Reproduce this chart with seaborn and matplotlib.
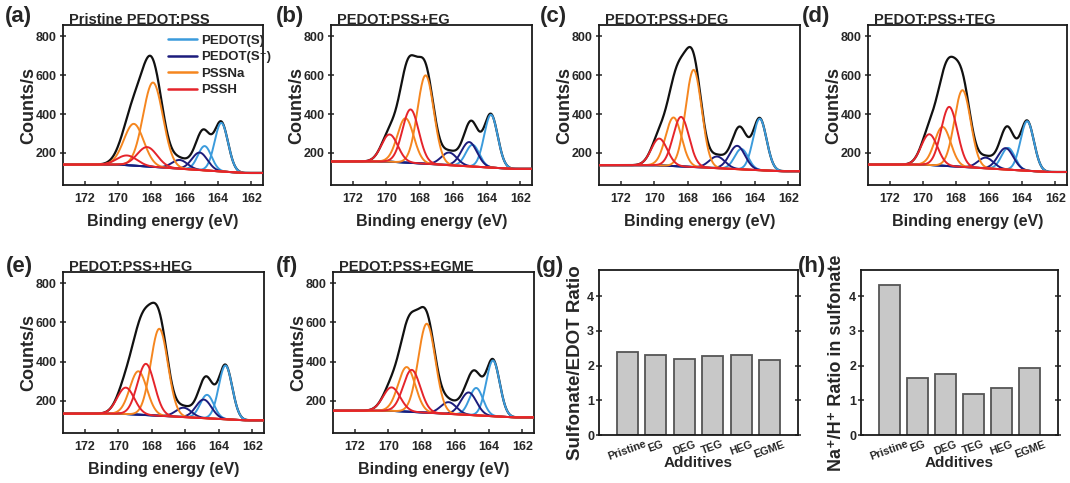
import numpy as np
import pandas as pd
import matplotlib
matplotlib.use("Agg")
import matplotlib.pyplot as plt
from matplotlib.lines import Line2D
import seaborn as sns

# ---------------- data ----------------
panel_titles = ["Pristine PEDOT:PSS", "PEDOT:PSS+EG", "PEDOT:PSS+DEG",
                "PEDOT:PSS+TEG", "PEDOT:PSS+HEG", "PEDOT:PSS+EGME"]
panel_letters = ["(a)", "(b)", "(c)", "(d)", "(e)", "(f)", "(g)", "(h)"]

# peak centres (eV) of each doublet (2p3/2, 2p1/2) per panel
pedot_s_pos = [(163.80, 164.80), (163.75, 164.85), (163.70, 164.80),
               (163.70, 164.85), (163.60, 164.70), (163.75, 164.75)]
pedot_sp_pos = [(165.10, 166.30), (165.05, 166.25), (165.05, 166.25),
                (165.00, 166.20), (164.90, 166.10), (165.20, 166.40)]
pssna_pos = [(167.90, 169.05), (167.65, 168.85), (167.65, 168.85),
             (167.60, 168.80), (167.55, 168.80), (167.70, 168.90)]
pssh_pos = [(168.25, 169.45), (168.55, 169.80), (168.40, 169.70),
            (168.40, 169.60), (168.35, 169.55), (168.60, 169.80)]

# peak heights above background (counts/s)
pedot_s_amp = [(250, 125), (272, 112), (265, 105), (255, 112), (275, 120), (285, 140)]
pedot_sp_amp = [(90, 45), (125, 65), (120, 60), (110, 55), (95, 48), (115, 60)]
pssna_amp = [(434, 215), (455, 228), (500, 250), (395, 200), (445, 222), (455, 228)]
pssh_amp = [(100, 50), (275, 140), (255, 138), (305, 158), (262, 135), (215, 120)]

# peak widths (FWHM, eV)
pedot_s_fwhm = [0.95, 0.95, 0.95, 0.95, 0.95, 0.95]
pedot_sp_fwhm = [1.1, 1.1, 1.1, 1.1, 1.1, 1.1]
pss_fwhm = [1.4, 1.15, 1.12, 1.15, 1.2, 1.2]

# background level at high / low binding energy side
bg_high = [140, 156, 137, 140, 134, 149]
bg_low = [97, 118, 106, 102, 100, 115]

component_names = ["PEDOT(S)", "PEDOT(S\u207a)", "PSSNa", "PSSH"]
component_colors = ["#3b9bdc", "#1c1c7c", "#f5861f", "#e5242b"]

additives = ["Pristine", "EG", "DEG", "TEG", "HEG", "EGME"]
sulfonate_edot_ratio = [2.40, 2.29, 2.18, 2.27, 2.31, 2.16]
na_h_ratio = [4.31, 1.63, 1.75, 1.17, 1.36, 1.93]

# ---------------- style ----------------
sns.set_theme(style="ticks")
FAMILY = ["Liberation Sans", "DejaVu Sans"]
plt.rcParams["font.family"] = FAMILY
plt.rcParams["font.weight"] = "bold"
plt.rcParams["axes.labelweight"] = "bold"
plt.rcParams["axes.linewidth"] = 1.3
plt.rcParams["axes.edgecolor"] = "#1a1a1a"

W, H = 1070, 483
fig = plt.figure(figsize=(W / 100, H / 100), dpi=100)


def add_ax(left, top, right, bottom):
    return fig.add_axes([left / W, 1 - bottom / H, (right - left) / W, (bottom - top) / H])


def gauss(x, c, a, w):
    return a * np.exp(-4 * np.log(2) * (x - c) ** 2 / w ** 2)


xps_boxes = [(63, 25, 263, 185), (331, 25, 532, 185), (599, 25, 800, 185),
             (868, 25, 1067, 185), (63, 272, 264, 433), (333, 272, 534, 433)]
label_pos = [(5, 6), (276, 6), (540, 6), (802, 6), (6, 256), (276, 256), (536, 256), (798, 256)]

xgrid = np.linspace(173.3, 161.3, 700)

for i in range(6):
    ax = add_ax(*xps_boxes[i])
    bg = bg_low[i] + (bg_high[i] - bg_low[i]) * np.clip((xgrid - 162.5) / (170 - 162.5), 0, 1)
    comps = [
        (pedot_s_pos[i], pedot_s_amp[i], pedot_s_fwhm[i]),
        (pedot_sp_pos[i], pedot_sp_amp[i], pedot_sp_fwhm[i]),
        (pssna_pos[i], pssna_amp[i], pss_fwhm[i]),
        (pssh_pos[i], pssh_amp[i], pss_fwhm[i]),
    ]
    peaks = []
    for ci, (pos, amp, w) in enumerate(comps):
        for c, a in zip(pos, amp):
            peaks.append((ci, gauss(xgrid, c, a, w)))
    envelope = bg + sum(p for _, p in peaks)
    sns.lineplot(x=xgrid, y=envelope, ax=ax, color="#111111", lw=1.6, sort=False, zorder=2)
    for ci, p in peaks:
        sns.lineplot(x=xgrid, y=bg + p, ax=ax, color=component_colors[ci], lw=1.4,
                     sort=False, zorder=3 + ci)
    ax.set_xlim(173.3, 161.3)
    ax.set_ylim(35, 858)
    ax.set_xticks([172, 170, 168, 166, 164, 162])
    ax.set_yticks([200, 400, 600, 800])
    ax.tick_params(axis="x", direction="in", length=3, width=1.1, labelsize=9, pad=6)
    ax.tick_params(axis="y", direction="inout", length=5, width=1.1, labelsize=9, pad=2)
    for lab in ax.get_xticklabels() + ax.get_yticklabels():
        lab.set_fontweight("bold")
    ax.set_xlabel("Binding energy (eV)", fontsize=11.5, fontweight="bold", labelpad=6)
    ax.set_ylabel("Counts/s", fontsize=13, fontweight="bold", labelpad=-1)
    ax.text(0.03, 1.004, panel_titles[i], transform=ax.transAxes, fontsize=10.5,
            fontweight="bold", ha="left", va="baseline")
    if i == 0:
        handles = [Line2D([], [], color=c, lw=1.8) for c in component_colors]
        ax.legend(handles, component_names, loc="upper left", bbox_to_anchor=(0.525, 0.94),
                  frameon=False, handlelength=2.2, handletextpad=0.3,
                  labelspacing=0.32, borderaxespad=0, borderpad=0,
                  prop={"family": FAMILY, "weight": "bold", "size": 9.5})

bar_boxes = [(599, 270, 798, 435), (861, 270, 1058, 435)]
bar_data = [sulfonate_edot_ratio, na_h_ratio]
bar_ylabels = ["Sulfonate/EDOT Ratio", "Na\u207a/H\u207a Ratio in sulfonate"]
bar_ylabel_sizes = [13.5, 13]
bar_ylabel_x = [-0.075, -0.08]
for j in range(2):
    ax = add_ax(*bar_boxes[j])
    df = pd.DataFrame({"Additives": additives, "value": bar_data[j]})
    sns.barplot(data=df, x="Additives", y="value", ax=ax, color="#c8c8c8",
                edgecolor="#555555", linewidth=1.3, width=0.74, saturation=1, zorder=2)
    ax.set_xlim(-1.0, 6.0)
    ax.set_ylim(0, 4.75)
    ax.set_yticks([0, 1, 2, 3, 4])
    ax.tick_params(axis="y", direction="inout", length=5, width=1.1, labelsize=9, pad=1,
                   right=True)
    ax.tick_params(axis="x", direction="in", length=3, width=1.1, labelsize=7.8, pad=3)
    plt.setp(ax.get_xticklabels(), rotation=20, ha="center", fontweight="bold")
    plt.setp(ax.get_yticklabels(), fontweight="bold")
    ax.set_xlabel("Additives", fontsize=11, fontweight="bold")
    ax.xaxis.set_label_coords(0.5, -0.125)
    ax.set_ylabel(bar_ylabels[j], fontsize=bar_ylabel_sizes[j], fontweight="bold",
                  family=FAMILY)
    ax.yaxis.set_label_coords(bar_ylabel_x[j], 0.44)

for k, (px, py) in enumerate(label_pos):
    fig.text(px / W, 1 - py / H, panel_letters[k], fontsize=16, fontweight="bold",
             ha="left", va="top")

fig.savefig("out.png", dpi=100)
